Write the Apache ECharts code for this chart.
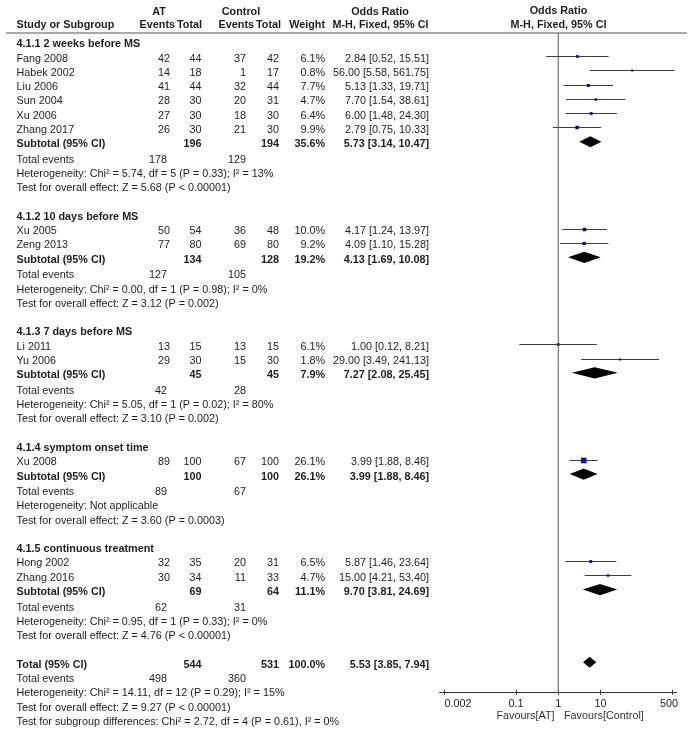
<!DOCTYPE html>
<html>
<head>
<meta charset="utf-8">
<script src="https://cdn.jsdelivr.net/npm/echarts@6/dist/echarts.min.js"></script>
<style>
  html, body { margin: 0; background: #fff; }
  #chart { width: 694px; height: 738px; }
</style>
</head>
<body>
<div id="chart"></div>
<script>
// ---- data ----
const subgroupNames = ['4.1.1 2 weeks before MS', '4.1.2 10 days before MS', '4.1.3 7 days before MS', '4.1.4 symptom onset time', '4.1.5 continuous treatment']
const studyNames = ['Fang 2008', 'Habek 2002', 'Liu 2006', 'Sun 2004', 'Xu 2006', 'Zhang 2017', 'Xu 2005', 'Zeng 2013', 'Li 2011', 'Yu 2006', 'Xu 2008', 'Hong 2002', 'Zhang 2016']
const studyGroup = [0, 0, 0, 0, 0, 0, 1, 1, 2, 2, 3, 4, 4]
const atEvents = [42, 14, 41, 28, 27, 26, 50, 77, 13, 29, 89, 32, 30]
const atTotal = [44, 18, 44, 30, 30, 30, 54, 80, 15, 30, 100, 35, 34]
const ctrlEvents = [37, 1, 32, 20, 18, 21, 36, 69, 13, 15, 67, 20, 11]
const ctrlTotal = [42, 17, 44, 31, 30, 30, 48, 80, 15, 30, 100, 31, 33]
const weights = [6.1, 0.8, 7.7, 4.7, 6.4, 9.9, 10.0, 9.2, 6.1, 1.8, 26.1, 6.5, 4.7]
const oddsRatio = [2.84, 56.0, 5.13, 7.7, 6.0, 2.79, 4.17, 4.09, 1.0, 29.0, 3.99, 5.87, 15.0]
const ciLow = [0.52, 5.58, 1.33, 1.54, 1.48, 0.75, 1.24, 1.10, 0.12, 3.49, 1.88, 1.46, 4.21]
const ciHigh = [15.51, 561.75, 19.71, 38.61, 24.30, 10.33, 13.97, 15.28, 8.21, 241.13, 8.46, 23.64, 53.40]

const subTotalAT = [196, 134, 45, 100, 69]
const subTotalCtrl = [194, 128, 45, 100, 64]
const subWeight = [35.6, 19.2, 7.9, 26.1, 11.1]
const subOR = [5.73, 4.13, 7.27, 3.99, 9.70]
const subLow = [3.14, 1.69, 2.08, 1.88, 3.81]
const subHigh = [10.47, 10.08, 25.45, 8.46, 24.69]
const subEventsAT = [178, 127, 42, 89, 62]
const subEventsCtrl = [129, 105, 28, 67, 31]
const subHet = [
  'Heterogeneity: Chi² = 5.74, df = 5 (P = 0.33); I² = 13%',
  'Heterogeneity: Chi² = 0.00, df = 1 (P = 0.98); I² = 0%',
  'Heterogeneity: Chi² = 5.05, df = 1 (P = 0.02); I² = 80%',
  'Heterogeneity: Not applicable',
  'Heterogeneity: Chi² = 0.95, df = 1 (P = 0.33); I² = 0%',
]
const subTest = [
  'Test for overall effect: Z = 5.68 (P < 0.00001)',
  'Test for overall effect: Z = 3.12 (P = 0.002)',
  'Test for overall effect: Z = 3.10 (P = 0.002)',
  'Test for overall effect: Z = 3.60 (P = 0.0003)',
  'Test for overall effect: Z = 4.76 (P < 0.00001)',
]

const totalAT = 544
const totalCtrl = 531
const totalWeight = 100.0
const totalOR = [5.53, 3.85, 7.94]
const totalEvents = [498, 360]
const totalNotes = [
  'Heterogeneity: Chi² = 14.11, df = 12 (P = 0.29); I² = 15%',
  'Test for overall effect: Z = 9.27 (P < 0.00001)',
  'Test for subgroup differences: Chi² = 2.72, df = 4 (P = 0.61), I² = 0%',
]

const tickValues = [0.002, 0.1, 1, 10, 500]
const tickLabels = ['0.002', '0.1', '1', '10', '500']
const favoursLabels = ['Favours[AT]', 'Favours[Control]']

// ---- layout ----
const FONT_FAMILY = '"Liberation Sans", Arial, sans-serif'
const FONT_SIZE = 10.8
const TEXT_COLOR = '#1e1e1e'
const ROW_PX = 14.28
const FIRST_ROW_PX = 44.3
const PLOT_TOP = 33
const AXIS_Y = 692.3
const X_MIN = 0.00156
const X_MAX = 640
const MARK_SHIFT = -2.5
const font = (bold) => (bold ? 'bold ' : '') + FONT_SIZE + 'px ' + FONT_FAMILY

// rows in row units (one unit = one text line)
const rows = []
const studyRow = []
const subRow = []
let r = 0
subgroupNames.forEach((name, g) => {
  rows.push({ kind: 'group', y: r, label: name }); r += 1
  studyNames.forEach((s, i) => {
    if (studyGroup[i] !== g) return
    studyRow[i] = r
    rows.push({ kind: 'study', y: r, i }); r += 1
  })
  subRow[g] = r
  rows.push({ kind: 'subtotal', y: r, g }); r += 1.09
  rows.push({ kind: 'events', y: r, a: subEventsAT[g], c: subEventsCtrl[g] }); r += 1
  rows.push({ kind: 'note', y: r, label: subHet[g] }); r += 1
  rows.push({ kind: 'note', y: r, label: subTest[g] }); r += 2
})
const totalRow = r
rows.push({ kind: 'total', y: r }); r += 1
rows.push({ kind: 'events', y: r, a: totalEvents[0], c: totalEvents[1] }); r += 1
totalNotes.forEach((t) => { rows.push({ kind: 'note', y: r, label: t }); r += 1 })

const Y_MIN = (PLOT_TOP - FIRST_ROW_PX) / ROW_PX
const Y_MAX = (AXIS_Y - FIRST_ROW_PX) / ROW_PX

const fmtOR = (o, l, h) => `${o.toFixed(2)} [${l.toFixed(2)}, ${h.toFixed(2)}]`
const fmtW = (w) => w.toFixed(1) + '%'

function txt(text, x, y, align, bold) {
  return {
    type: 'text',
    silent: true,
    style: {
      text: String(text), x, y,
      align, verticalAlign: 'middle',
      textAlign: align, textVerticalAlign: 'middle',
      font: font(bold), fill: TEXT_COLOR,
    },
  }
}

function renderRow(params, api) {
  const row = rows[params.dataIndex]
  const y = api.coord([1, row.y])[1]
  const kids = []
  if (row.kind === 'group') {
    kids.push(txt(row.label, 16.5, y, 'left', true))
  } else if (row.kind === 'study') {
    const i = row.i
    kids.push(txt(studyNames[i], 16.5, y, 'left'))
    kids.push(txt(atEvents[i], 170, y, 'right'))
    kids.push(txt(atTotal[i], 201.5, y, 'right'))
    kids.push(txt(ctrlEvents[i], 246, y, 'right'))
    kids.push(txt(ctrlTotal[i], 279, y, 'right'))
    kids.push(txt(fmtW(weights[i]), 325, y, 'right'))
    kids.push(txt(fmtOR(oddsRatio[i], ciLow[i], ciHigh[i]), 429, y, 'right'))
  } else if (row.kind === 'subtotal') {
    const g = row.g
    kids.push(txt('Subtotal (95% CI)', 16.5, y, 'left', true))
    kids.push(txt(subTotalAT[g], 201.5, y, 'right', true))
    kids.push(txt(subTotalCtrl[g], 279, y, 'right', true))
    kids.push(txt(fmtW(subWeight[g]), 325, y, 'right', true))
    kids.push(txt(fmtOR(subOR[g], subLow[g], subHigh[g]), 429, y, 'right', true))
  } else if (row.kind === 'total') {
    kids.push(txt('Total (95% CI)', 16.5, y, 'left', true))
    kids.push(txt(totalAT, 201.5, y, 'right', true))
    kids.push(txt(totalCtrl, 279, y, 'right', true))
    kids.push(txt(fmtW(totalWeight), 325, y, 'right', true))
    kids.push(txt(fmtOR(totalOR[0], totalOR[1], totalOR[2]), 429, y, 'right', true))
  } else if (row.kind === 'events') {
    kids.push(txt('Total events', 16.5, y, 'left'))
    kids.push(txt(row.a, 167, y, 'right'))
    kids.push(txt(row.c, 246, y, 'right'))
  } else {
    kids.push(txt(row.label, 16.5, y, 'left'))
  }
  return { type: 'group', children: kids }
}

function renderStudy(params, api) {
  const yv = api.value(1)
  const c = api.coord([api.value(0), yv])
  const lo = api.coord([api.value(2), yv])
  const hi = api.coord([Math.min(api.value(3), X_MAX), yv])
  const y = Math.round(c[1] + MARK_SHIFT) + 0.5
  const side = Math.max(2, Math.sqrt(api.value(4)) * 1.1)
  return {
    type: 'group',
    children: [
      { type: 'line', shape: { x1: lo[0], y1: y, x2: hi[0], y2: y }, style: { stroke: '#3c3c3c', lineWidth: 1 } },
      { type: 'rect', shape: { x: c[0] - side / 2, y: y - side / 2, width: side, height: side }, style: { fill: '#0000c4' } },
    ],
  }
}

function renderDiamond(params, api) {
  const yv = api.value(1)
  const c = api.coord([api.value(0), yv])
  const lo = api.coord([api.value(2), yv])
  const hi = api.coord([api.value(3), yv])
  const y = c[1] + MARK_SHIFT
  const h = 5.6
  return {
    type: 'polygon',
    shape: { points: [[lo[0], y], [c[0], y - h], [hi[0], y], [c[0], y + h]] },
    style: { fill: '#000' },
  }
}

const headers = [
  ['AT', 159, 12, 'center'], ['Control', 241, 12, 'center'], ['Odds Ratio', 380, 12, 'center'], ['Odds Ratio', 558.5, 11.5, 'center'],
  ['Study or Subgroup', 16.5, 25.5, 'left'], ['Events', 175, 25.5, 'right'], ['Total', 202, 25.5, 'right'],
  ['Events', 254, 25.5, 'right'], ['Total', 281, 25.5, 'right'], ['Weight', 325, 25.5, 'right'],
  ['M-H, Fixed, 95% CI', 380.5, 25.5, 'center'], ['M-H, Fixed, 95% CI', 558.5, 25.5, 'center'],
]

function tickText(v) {
  let best = 0
  tickValues.forEach((t, i) => {
    if (Math.abs(Math.log10(t) - Math.log10(v)) < Math.abs(Math.log10(tickValues[best]) - Math.log10(v))) best = i
  })
  // first and last labels sit a little inside the axis ends
  if (best === 0) return '{first|' + tickLabels[best] + '}'
  if (best === tickLabels.length - 1) return '{last|' + tickLabels[best] + '}'
  return tickLabels[best]
}

const axisBase = {
  type: 'log',
  logBase: 10,
  min: X_MIN,
  max: X_MAX,
  position: 'bottom',
  splitLine: { show: false },
}

const chart = echarts.init(document.getElementById('chart'))
chart.setOption({
  backgroundColor: '#fff',
  animation: false,
  grid: { left: 439.5, width: 237.5, top: PLOT_TOP, height: AXIS_Y - PLOT_TOP },
  xAxis: [
    {
      ...axisBase,
      axisLine: { onZero: false, lineStyle: { color: '#333', width: 1 } },
      axisTick: { customValues: tickValues, length: 2.5, lineStyle: { color: '#333' } },
      axisLabel: {
        customValues: tickValues,
        margin: 6,
        color: TEXT_COLOR,
        fontSize: FONT_SIZE,
        fontFamily: FONT_FAMILY,
        formatter: tickText,
        rich: {
          first: { fontSize: FONT_SIZE, fontFamily: FONT_FAMILY, color: TEXT_COLOR, padding: [0, 0, 0, 28] },
          last: { fontSize: FONT_SIZE, fontFamily: FONT_FAMILY, color: TEXT_COLOR, padding: [0, 7, 0, 0] },
        },
      },
    },
    {
      ...axisBase,
      offset: 0,
      axisLine: { show: false, onZero: false },
      axisTick: { customValues: tickValues, inside: true, length: 2.5, lineStyle: { color: '#333' } },
      axisLabel: { show: false },
    },
  ],
  yAxis: { type: 'value', min: Y_MIN, max: Y_MAX, inverse: true, show: false },
  graphic: [
    { type: 'line', shape: { x1: 6, y1: 33, x2: 687, y2: 33 }, style: { stroke: '#8c8c8c', lineWidth: 1.5 } },
    ...headers.map(([t, x, y, align]) => ({
      type: 'text', x, y, silent: true,
      style: { text: t, font: font(true), fill: TEXT_COLOR, align, verticalAlign: 'middle', textAlign: align, textVerticalAlign: 'middle' },
    })),
    { type: 'text', x: 554.5, y: 716, style: { text: favoursLabels[0], font: font(false), fill: '#333', align: 'right', verticalAlign: 'middle', textAlign: 'right', textVerticalAlign: 'middle' } },
    { type: 'text', x: 564, y: 716, style: { text: favoursLabels[1], font: font(false), fill: '#333', align: 'left', verticalAlign: 'middle', textAlign: 'left', textVerticalAlign: 'middle' } },
  ],
  series: [
    {
      type: 'line',
      data: [[1, Y_MIN], [1, Y_MAX]],
      symbol: 'none',
      silent: true,
      lineStyle: { color: '#555', width: 1 },
    },
    {
      type: 'custom',
      clip: false,
      silent: true,
      renderItem: renderRow,
      data: rows.map((row) => [1, row.y]),
    },
    {
      type: 'custom',
      clip: false,
      silent: true,
      renderItem: renderStudy,
      data: studyNames.map((s, i) => [oddsRatio[i], studyRow[i], ciLow[i], ciHigh[i], weights[i]]),
    },
    {
      type: 'custom',
      clip: false,
      silent: true,
      renderItem: renderDiamond,
      data: subOR.map((o, g) => [o, subRow[g], subLow[g], subHigh[g]]).concat([[totalOR[0], totalRow, totalOR[1], totalOR[2]]]),
    },
  ],
})

window.addEventListener('resize', () => chart.resize())
</script>
</body>
</html>
